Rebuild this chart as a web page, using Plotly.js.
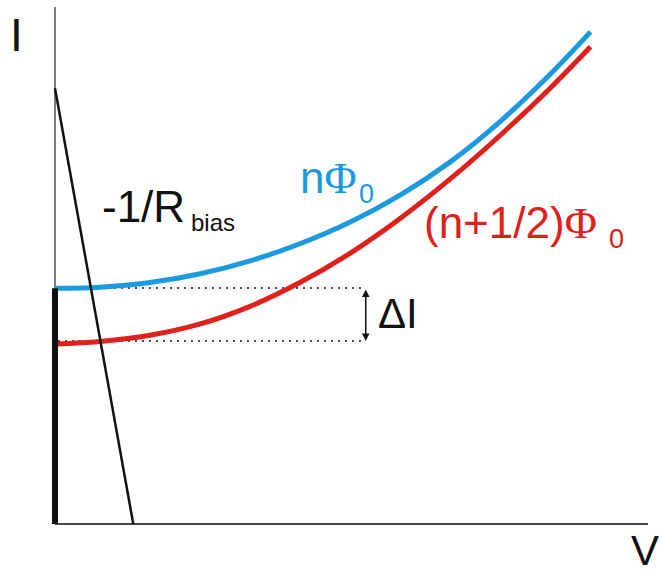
<!DOCTYPE html>
<html>
<head>
<meta charset="utf-8">
<script src="https://cdn.plot.ly/plotly-3.0.1.min.js"></script>
<style>
  html, body { margin: 0; padding: 0; background: #fff; }
  #chart { width: 662px; height: 577px; }
</style>
</head>
<body>
<div id="chart"></div>
<script>
// SQUID current–voltage characteristic (schematic units, 0–100 on both axes)
const voltage = [0, 7.6, 16.0, 24.5, 32.9, 41.3, 49.8, 58.2, 66.6, 75.0, 83.5, 90.3];
// integer flux quantum: I(V)
const currentIntFlux = [45.6, 45.8, 46.7, 48.4, 50.9, 54.2, 58.4, 63.6, 70.0, 77.8, 87.0, 95.2];
// half-integer flux quantum: I(V)
const currentHalfFlux = [34.8, 35.3, 36.5, 38.7, 42.1, 46.7, 52.4, 59.1, 66.7, 75.1, 84.3, 92.3];

// bias load line (slope -1/R_bias)
const loadLineV = [0, 13.2];
const loadLineI = [84.3, 0];

// zero-voltage supercurrent branch
const superV = [0, 0];
const superI = [0, 45.6];

// modulation depth markers
const deltaIHigh = 45.65;
const deltaILow = 35.4;
const deltaIAt = 52.4;

const blue = '#1b9ae0';
const red = '#e0201b';
const txtFont = 'Liberation Sans, Arial, sans-serif';
const subFont = 'Liberation Sans Narrow, Liberation Sans, Arial, sans-serif';
const phi = '<span style="font-family:Liberation Serif">Φ</span>';

const traces = [
  { x: voltage, y: currentHalfFlux, mode: 'lines', line: { color: red, width: 5, shape: 'spline', smoothing: 1 }, hoverinfo: 'skip' },
  { x: voltage, y: currentIntFlux, mode: 'lines', line: { color: blue, width: 5, shape: 'spline', smoothing: 1 }, hoverinfo: 'skip' },
  { x: superV, y: superI, mode: 'lines', line: { color: '#111', width: 6 }, hoverinfo: 'skip' },
  { x: loadLineV, y: loadLineI, mode: 'lines', line: { color: '#111', width: 2.5 }, hoverinfo: 'skip' }
];

const ann = (x, y, text, size, color, family) => ({
  x: x, y: y, xref: 'x', yref: 'y', text: text, showarrow: false,
  xanchor: 'left', yanchor: 'middle',
  font: { family: family || txtFont, size: size, color: color }
});

const layout = {
  width: 662, height: 577,
  margin: { l: 40, r: 10, t: 5, b: 42 },
  paper_bgcolor: '#fff', plot_bgcolor: '#fff',
  showlegend: false,
  xaxis: { range: [-2.53, 100.67], visible: false, fixedrange: true },
  yaxis: { range: [-2.13, 100.39], visible: false, fixedrange: true },
  shapes: [
    // axes
    { type: 'line', xref: 'x', yref: 'y', x0: 0, x1: 0, y0: 0, y1: 100, line: { color: '#55554d', width: 1.5 }, layer: 'below' },
    { type: 'line', xref: 'x', yref: 'y', x0: 0, x1: 100, y0: 0, y1: 0, line: { color: '#48483f', width: 2 }, layer: 'below' },
    // dotted guides for ΔI
    { type: 'line', xref: 'x', yref: 'y', x0: 0.5, x1: deltaIAt, y0: deltaIHigh, y1: deltaIHigh, line: { color: '#111', width: 1.5, dash: '2px,5px' }, layer: 'below' },
    { type: 'line', xref: 'x', yref: 'y', x0: 0.5, x1: deltaIAt, y0: deltaILow, y1: deltaILow, line: { color: '#111', width: 1.5, dash: '2px,5px' }, layer: 'below' }
  ],
  annotations: [
    // axis names
    { xref: 'paper', yref: 'paper', x: -0.0376, y: 0.9425, text: 'I', showarrow: false, xanchor: 'center', yanchor: 'middle', font: { family: txtFont, size: 46, color: '#111' } },
    { xref: 'paper', yref: 'paper', x: 0.9886, y: -0.030, text: 'V', showarrow: false, xanchor: 'center', yanchor: 'middle', font: { family: txtFont, size: 42, color: '#111' } },
    // curve labels
    ann(40.9, 67.0, 'n' + phi, 44, blue),
    ann(51.0, 63.8, '0', 27, blue, subFont),
    ann(61.9, 58.2, '(n+1/2)' + phi, 44, red),
    ann(93.1, 55.1, '0', 27, red, subFont),
    ann(7.6, 61.4, '-1/R', 44, '#111'),
    ann(22.6, 58.4, 'bias', 24, '#111'),
    ann(54.1, 40.8, 'ΔI', 42, '#111'),
    // double-headed ΔI arrow
    { x: deltaIAt, y: deltaILow, ax: deltaIAt, ay: deltaIHigh, xref: 'x', yref: 'y', axref: 'x', ayref: 'y',
      text: '', showarrow: true, arrowside: 'end+start', arrowhead: 2, arrowsize: 1, arrowwidth: 1.5,
      arrowcolor: '#111', standoff: 0, startstandoff: 0 }
  ]
};

Plotly.newPlot('chart', traces, layout, { staticPlot: true, displayModeBar: false });
</script>
</body>
</html>
